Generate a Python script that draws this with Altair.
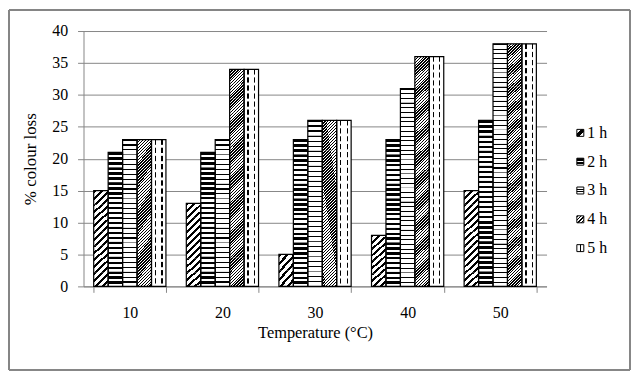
import altair as alt
import pandas as pd

# ---- data ----
temps = ["10", "20", "30", "40", "50"]
series = ["1 h", "2 h", "3 h", "4 h", "5 h"]
loss_1h = [15, 13, 5, 8, 15]
loss_2h = [21, 21, 23, 23, 26]
loss_3h = [23, 23, 26, 31, 38]
loss_4h = [23, 34, 26, 36, 38]
loss_5h = [23, 34, 26, 36, 38]
y_ticks = [0, 5, 10, 15, 20, 25, 30, 35, 40]

values = [loss_1h, loss_2h, loss_3h, loss_4h, loss_5h]
base = pd.DataFrame(
    [dict(temp=t, series=s, value=vals[i])
     for s, vals in zip(series, values) for i, t in enumerate(temps)]
)

# ---- layout ----
W, H = 466, 257
PAD_IN = 0.22
px_per_unit = H / 40
bar_px = W * (1 - PAD_IN) / 5 / 5      # width of one bar in px
cell = bar_px / px_per_unit            # square cell height in data units

# hatching pieces derived from the bars
rows = []
for s, vals in zip(series, values):
    for i, t in enumerate(temps):
        v = vals[i]
        if s == "5 h":
            n = max(1, round(v / 1.25))
            h = v / n
            for k in range(n):
                rows.append(dict(temp=t, series=s, kind="dash", y0=k * h + 0.35 * h, y1=(k + 1) * h))
        else:
            n = max(1, round(v / cell))
            h = v / n
            for k in range(n):
                rows.append(dict(temp=t, series=s, kind=s, y0=k * h, y1=(k + 1) * h))
pieces = pd.DataFrame(rows)


def stripes(n, bf, x1, y1, x2, y2):
    stops = []
    for k in range(n):
        a = k / n
        b = a + bf / n
        c = (k + 1) / n
        stops += [{"offset": a, "color": "#000000"}, {"offset": b, "color": "#000000"},
                  {"offset": b, "color": "#ffffff"}, {"offset": c, "color": "#ffffff"}]
    return {"gradient": "linear", "x1": x1, "y1": y1, "x2": x2, "y2": y2, "stops": stops}


def bands(pairs, x1, y1, x2, y2):
    stops = []
    for a, b in pairs:
        stops += [{"offset": a, "color": "#ffffff"}, {"offset": a, "color": "#000000"},
                  {"offset": b, "color": "#000000"}, {"offset": b, "color": "#ffffff"}]
    return {"gradient": "linear", "x1": x1, "y1": y1, "x2": x2, "y2": y2,
            "stops": [{"offset": 0, "color": "#ffffff"}] + stops + [{"offset": 1, "color": "#ffffff"}]}


grads = {
    "1 h": stripes(4, 0.42, 0, 0, 1, 1),
    "2 h": stripes(3, 0.5, 0, 0, 0, 1),
    "3 h": stripes(3, 0.22, 0, 0, 0, 1),
    "4 h": stripes(10, 0.5, 0, 0, 1, 1),
    "dash": bands([(0.23, 0.32), (0.68, 0.77)], 0, 0, 1, 0),
}
legend_grads = {
    "1 h": bands([(0.3, 0.7)], 0, 0, 1, 1),
    "2 h": stripes(2, 0.7, 0, 0, 0, 1),
    "3 h": bands([(0.3, 0.42), (0.62, 0.74)], 0, 0, 0, 1),
    "4 h": stripes(4, 0.5, 0, 0, 1, 1),
    "5 h": bands([(0.45, 0.6)], 0, 0, 1, 0),
}

FONT = "Liberation Serif"
GRID = "#868686"

x_enc = alt.X("temp:N", sort=temps,
              scale=alt.Scale(paddingInner=PAD_IN, paddingOuter=PAD_IN / 2),
              axis=alt.Axis(title="Temperature (\u00b0C)", labelAngle=0, tickBand="extent",
                            tickSize=6, tickColor=GRID, domainColor=GRID,
                            labelFont=FONT, labelFontSize=16, labelColor="black", labelPadding=12,
                            titleFont=FONT, titleFontSize=16.5, titleFontWeight="normal",
                            titleColor="black", titlePadding=4))
xo_enc = alt.XOffset("series:N", sort=series, scale=alt.Scale(paddingInner=0, paddingOuter=0))
y_scale = alt.Scale(domain=[0, 40], nice=False)
y_axis = alt.Axis(values=y_ticks, grid=True, gridColor=GRID, domainColor=GRID, tickColor=GRID,
                  tickSize=6, labelFont=FONT, labelFontSize=16, labelColor="black", labelPadding=10,
                  title="% colour loss", titleFont=FONT, titleFontSize=17, titleFontWeight="normal",
                  titleColor="black", titlePadding=12)

frame = alt.Chart(base).mark_rect(fill="transparent", stroke=GRID, strokeWidth=1).encode(
    x=alt.value(-75), x2=alt.value(550), y=alt.value(-21), y2=alt.value(341)
)

white = alt.Chart(base).mark_bar(fill="white").encode(
    x=x_enc, xOffset=xo_enc, y=alt.Y("value:Q", scale=y_scale, axis=y_axis)
)

layers = [frame, white]
for kind, g in grads.items():
    layers.append(
        alt.Chart(pieces).transform_filter(alt.datum.kind == kind).mark_bar(fill=g, strokeWidth=0).encode(
            x=x_enc, xOffset=xo_enc, y=alt.Y("y0:Q", scale=y_scale, axis=y_axis), y2="y1:Q"
        )
    )
outline = alt.Chart(base).mark_bar(fillOpacity=0, stroke="black", strokeWidth=1.2).encode(
    x=x_enc, xOffset=xo_enc, y=alt.Y("value:Q", scale=y_scale, axis=y_axis)
)
layers.append(outline)
main = alt.layer(*layers).properties(width=W, height=H)

# ---- legend panel ----
leg_df = pd.DataFrame({"series": series})
leg_y = alt.Y("series:N", sort=series, scale=alt.Scale(type="point", range=[88, 233]), axis=None)
leg_layers = []
for s in series:
    leg_layers.append(
        alt.Chart(leg_df).transform_filter(alt.datum.series == s).mark_square(
            size=49, fill=legend_grads[s], stroke="black", strokeWidth=1, opacity=1
        ).encode(x=alt.value(14), y=leg_y)
    )
leg_layers.append(
    alt.Chart(leg_df).mark_text(align="left", baseline="middle", font=FONT, fontSize=16, color="black").encode(
        x=alt.value(21), y=leg_y, text="series:N"
    )
)
legend = alt.layer(*leg_layers).properties(width=60, height=H)

chart = alt.hconcat(main, legend, spacing=20, bounds="flush").properties(
    padding=0
).configure_view(stroke="transparent")

chart.save("out.html", embed_options={"renderer": "svg", "actions": False})
